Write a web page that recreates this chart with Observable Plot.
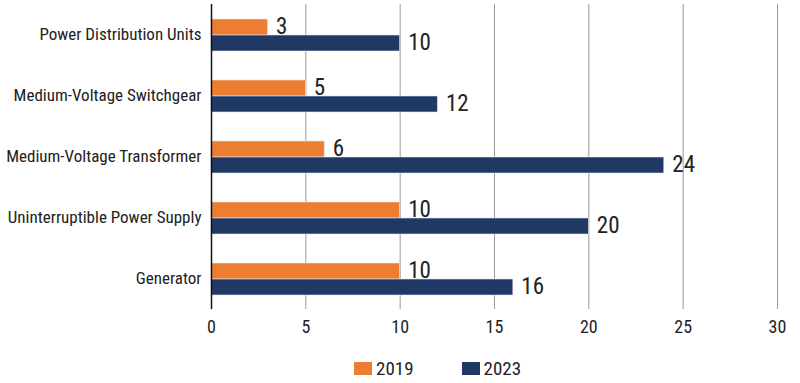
<!DOCTYPE html>
<html><head><meta charset="utf-8">
<script src="https://cdn.jsdelivr.net/npm/d3@7"></script>
<script src="https://cdn.jsdelivr.net/npm/@observablehq/plot@0.6"></script>
<style>
body{margin:0;background:#fff;font-family:"Liberation Sans Narrow","Roboto Condensed","DejaVu Sans Condensed",sans-serif;}
#chart svg{display:block;font-family:"Liberation Sans Narrow","Roboto Condensed","DejaVu Sans Condensed",sans-serif;}
#legend{display:flex;align-items:center;height:38px;padding-left:354px;padding-top:4px;font-size:19px;color:#222;}
.sw{display:inline-block;width:18px;height:13px;margin-right:4px;}
.item{display:flex;align-items:center;margin-right:48px;}
</style></head>
<body>
<div id="chart"></div>
<div id="legend"></div>
<script>
const categories = ["Power Distribution Units","Medium-Voltage Switchgear","Medium-Voltage Transformer","Uninterruptible Power Supply","Generator"];
const years = ["2019","2023"];
const values2019 = [3,5,6,10,10];
const values2023 = [10,12,24,20,16];
const colors = ["#ED7D31","#203864"];
const xTicks = [0,5,10,15,20,25,30];

const data = [];
categories.forEach((c,i)=>{
  data.push({category:c, year:years[0], value:values2019[i]});
  data.push({category:c, year:years[1], value:values2023[i]});
});

const chart = Plot.plot({
  width: 800,
  height: 345,
  marginLeft: 211,
  marginRight: 23,
  marginTop: 3,
  marginBottom: 35,
  style: {fontSize: "18px", color: "#222"},
  x: {domain:[0,30], ticks: xTicks, tickSize: 0, tickPadding: 11, label: null, tickFormat: d=>String(d)},
  y: {domain: years, axis: null, paddingInner: 0, paddingOuter: 0.9},
  fy: {domain: categories, padding: 0, label: null, axis: null},
  color: {domain: years, range: colors},
  marks: [
    Plot.axisFy({anchor:"left", tickSize:0, tickPadding:10, fontSize:17, label:null}),
    Plot.ruleX(xTicks.filter(d=>d>0), {stroke:"#9a9a9a", strokeWidth:1, strokeOpacity:1}),
    Plot.barX(data, {fy:"category", y:"year", x:"value", fill:"year", stroke:"#e4e7ee", strokeWidth:0.6}),
    Plot.ruleX([0], {stroke:"#111", strokeWidth:1.5}),
    Plot.text(data, {fy:"category", y:"year", x:"value", text:d=>String(d.value), textAnchor:"start", dx:8, dy:-1, fontSize:23, fill:"#222"})
  ]
});
document.getElementById("chart").appendChild(chart);

const lg = document.getElementById("legend");
years.forEach((y,i)=>{
  const it = document.createElement("span");
  it.className="item";
  const sw = document.createElement("span");
  sw.className="sw"; sw.style.background=colors[i];
  it.appendChild(sw);
  it.appendChild(document.createTextNode(y));
  lg.appendChild(it);
});
</script>
</body></html>
